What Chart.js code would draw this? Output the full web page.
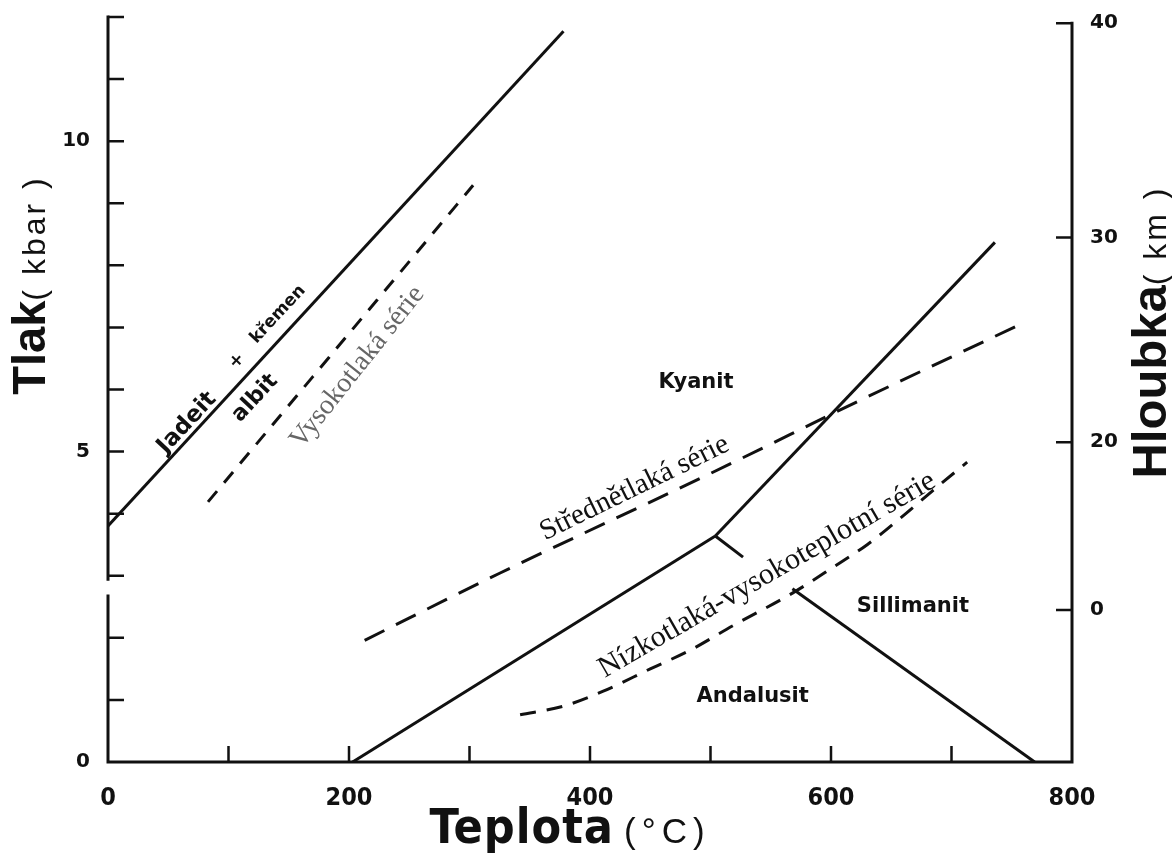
<!DOCTYPE html>
<html>
<head>
<meta charset="utf-8">
<script src="https://cdn.jsdelivr.net/npm/chart.js@4.4.1/dist/chart.umd.min.js"></script>
<style>
  html, body { margin: 0; padding: 0; background: #fff; }
  #wrap { width: 1172px; height: 854px; }
</style>
</head>
<body>
<div id="wrap"><canvas id="phaseChart" width="1172" height="854"></canvas></div>
<script>
// values: Teplota (°C) on x, Tlak (kbar) on y
const jadeitT = [0, 378];
const jadeitP = [3.8, 11.77];

const vysokoT = [83, 303];
const vysokoP = [4.19, 9.29];

const stredT = [213, 325, 497, 574, 599, 756];
const stredP = [1.96, 3.04, 4.62, 5.35, 5.59, 7.04];

const nizkoT = [342, 378, 411, 450, 483, 519, 568, 602, 630, 657, 685, 713];
const nizkoP = [0.76, 0.9, 1.14, 1.5, 1.8, 2.2, 2.72, 3.14, 3.5, 3.92, 4.38, 4.83];

const kyAndT = [203, 504];
const kyAndP = [0, 3.64];
const kySilT = [504, 736];
const kySilP = [3.64, 8.37];
const stubT = [504, 527];
const stubP = [3.64, 3.30];
const andSilT = [568, 769];
const andSilP = [2.79, 0];

// axis ticks
const tempTicks = [0, 100, 200, 300, 400, 500, 600, 700, 800];
const tempLabels = ['0', '', '200', '', '400', '', '600', '', '800'];
const tlakTicks = [0, 1, 2, 3, 4, 5, 6, 7, 8, 9, 10, 11, 12];
const tlakLabels = ['0', '', '', '', '', '5', '', '', '', '', '10', '', ''];
const hloubkaTicks = [2.45, 5.15, 8.45, 11.9];
const hloubkaLabels = ['0', '20', '30', '40'];

const pts = (xs, ys) => xs.map((v, i) => ({ x: v, y: ys[i] }));

// text inside the plot
const notes = [
  { text: 'Kyanit', t: 488, p: 6.12, angle: 0, font: 'bold 21px "DejaVu Sans"' },
  { text: 'Sillimanit', t: 668, p: 2.5, angle: 0, font: 'bold 21px "DejaVu Sans"' },
  { text: 'Andalusit', t: 535, p: 1.05, angle: 0, font: 'bold 21px "DejaVu Sans"' },
  { text: 'Jadeit', t: 65.6, p: 5.46, angle: -47, font: 'bold 23px "DejaVu Sans"' },
  { text: '+', t: 107, p: 6.46, angle: -47, font: 'bold 18px "DejaVu Sans"' },
  { text: 'křemen', t: 141, p: 7.21, angle: -47, font: 'bold 17px "DejaVu Sans"' },
  { text: 'albit', t: 122, p: 5.86, angle: -47, font: 'bold 22px "DejaVu Sans"' },
  { text: 'Vysokotlaká série', t: 207, p: 6.36, angle: -51.5, font: '28px "Liberation Serif"', color: '#666' },
  { text: 'Střednětlaká série', t: 437, p: 4.41, angle: -26, font: '29px "Liberation Serif"' },
  { text: 'Nízkotlaká-vysokoteplotní série', t: 547, p: 3.01, angle: -30, font: '30px "Liberation Serif"' }
];

const INK = '#111';
const CONDENSED = '"DejaVu Sans Condensed", "Liberation Sans", sans-serif';

function drawParts(ctx, parts, cx, cy, rot) {
  ctx.save();
  ctx.translate(cx, cy);
  ctx.rotate(rot);
  ctx.textBaseline = 'alphabetic';
  ctx.textAlign = 'left';
  let total = 0;
  parts.forEach(p => {
    ctx.font = p.font;
    ctx.letterSpacing = (p.spacing || 0) + 'px';
    p.w = ctx.measureText(p.text).width;
    total += p.w + (p.gap || 0);
  });
  let x = -total / 2;
  parts.forEach(p => {
    ctx.font = p.font;
    ctx.letterSpacing = (p.spacing || 0) + 'px';
    ctx.fillText(p.text, x, 0);
    x += p.w + (p.gap || 0);
  });
  ctx.restore();
}

const frame = {
  id: 'frame',
  afterDraw(chart) {
    const { ctx, scales: { x, y, y2 } } = chart;
    const left = x.getPixelForValue(0), right = x.getPixelForValue(800);
    const bottom = y.getPixelForValue(0);
    const tick = 16;
    ctx.save();
    ctx.strokeStyle = INK;
    ctx.fillStyle = INK;
    ctx.lineWidth = 3;
    ctx.lineCap = 'butt';
    ctx.beginPath();
    // left axis, broken near 3 kbar
    ctx.moveTo(left, bottom + 1.5);
    ctx.lineTo(left, y.getPixelForValue(2.7));
    ctx.moveTo(left, y.getPixelForValue(2.92));
    ctx.lineTo(left, y.getPixelForValue(12) - 1.5);
    // bottom axis
    ctx.moveTo(left - 1.5, bottom);
    ctx.lineTo(right + 1.5, bottom);
    // right axis
    ctx.moveTo(right, bottom + 1.5);
    ctx.lineTo(right, y2.getPixelForValue(11.9) - 1.5);
    ctx.stroke();

    ctx.lineWidth = 2.5;
    ctx.beginPath();
    tlakTicks.forEach(v => {
      if (v === 0) return;
      const py = y.getPixelForValue(v);
      ctx.moveTo(left, py);
      ctx.lineTo(left + tick, py);
    });
    hloubkaTicks.forEach(v => {
      const py = y2.getPixelForValue(v);
      ctx.moveTo(right, py);
      ctx.lineTo(right - tick, py);
    });
    tempTicks.forEach(v => {
      if (v === 0 || v === 800) return;
      const px = x.getPixelForValue(v);
      ctx.moveTo(px, bottom);
      ctx.lineTo(px, bottom - tick);
    });
    ctx.stroke();

    // labels inside the diagram
    notes.forEach(n => {
      ctx.save();
      ctx.translate(x.getPixelForValue(n.t), y.getPixelForValue(n.p));
      ctx.rotate(n.angle * Math.PI / 180);
      ctx.font = n.font;
      ctx.fillStyle = n.color || INK;
      ctx.textAlign = 'center';
      ctx.textBaseline = 'middle';
      ctx.fillText(n.text, 0, 0);
      ctx.restore();
    });

    // axis titles
    drawParts(ctx, [
      { text: 'Tlak', font: 'bold 47px "Liberation Sans"' },
      { text: '( kbar )', font: '32px "Liberation Sans"', spacing: 3 }
    ], 45, 285, -Math.PI / 2);
    drawParts(ctx, [
      { text: 'Hloubka', font: 'bold 49px "Liberation Sans"' },
      { text: '( km )', font: '32px "Liberation Sans"', spacing: 3 }
    ], 1166, 332, -Math.PI / 2);
    drawParts(ctx, [
      { text: 'Teplota', font: 'bold 48px ' + CONDENSED, spacing: 1, gap: 10 },
      { text: '(°C)', font: '35px "Liberation Sans"', spacing: 6 }
    ], 570, 843, 0);
    ctx.restore();
  }
};

const solid = (xs, ys) => ({
  data: pts(xs, ys), showLine: true, borderColor: INK, borderWidth: 3,
  pointRadius: 0, fill: false
});
const dashed = (xs, ys, dash) => ({
  data: pts(xs, ys), showLine: true, borderColor: INK, borderWidth: 3,
  pointRadius: 0, fill: false, borderDash: dash, cubicInterpolationMode: 'monotone'
});

const tickFont = { family: 'DejaVu Sans', weight: 'bold', size: 20 };

// keep the plot box fixed: no extra room for label overhang
const fitY = w => s => { s.width = w; s.paddingTop = 0; s.paddingBottom = 0; };

new Chart(document.getElementById('phaseChart'), {
  type: 'scatter',
  data: {
    datasets: [
      solid(jadeitT, jadeitP),
      dashed(vysokoT, vysokoP, [14, 11]),
      dashed(stredT, stredP, [22, 13]),
      dashed(nizkoT, nizkoP, [16, 11]),
      solid(kyAndT, kyAndP),
      solid(kySilT, kySilP),
      solid(stubT, stubP),
      solid(andSilT, andSilP)
    ]
  },
  options: {
    responsive: false,
    animation: false,
    layout: { padding: { top: 17, left: 0, right: 0, bottom: 0 } },
    plugins: { legend: { display: false }, tooltip: { enabled: false } },
    scales: {
      x: {
        type: 'linear', position: 'bottom', min: 0, max: 800,
        afterBuildTicks: s => { s.ticks = tempTicks.map(v => ({ value: v })); },
        afterFit: s => { s.height = 92; s.paddingLeft = 0; s.paddingRight = 0; },
        grid: { display: false, drawTicks: false },
        border: { display: false },
        ticks: {
          callback: (v, i) => tempLabels[i], autoSkip: false, maxRotation: 0,
          padding: 21, color: INK,
          font: { family: CONDENSED, weight: 'bold', size: 25 }
        }
      },
      y: {
        type: 'linear', position: 'left', min: 0, max: 12,
        afterBuildTicks: s => { s.ticks = tlakTicks.map(v => ({ value: v })); },
        afterFit: fitY(108),
        grid: { display: false, drawTicks: false },
        border: { display: false },
        ticks: { callback: (v, i) => tlakLabels[i], autoSkip: false, padding: 18, color: INK, font: tickFont }
      },
      y2: {
        type: 'linear', position: 'right', min: 0, max: 12,
        afterBuildTicks: s => { s.ticks = hloubkaTicks.map(v => ({ value: v })); },
        afterFit: fitY(100),
        grid: { display: false, drawTicks: false },
        border: { display: false },
        ticks: { callback: (v, i) => hloubkaLabels[i], autoSkip: false, padding: 18, color: INK, font: tickFont }
      }
    }
  },
  plugins: [frame]
});
</script>
</body>
</html>
